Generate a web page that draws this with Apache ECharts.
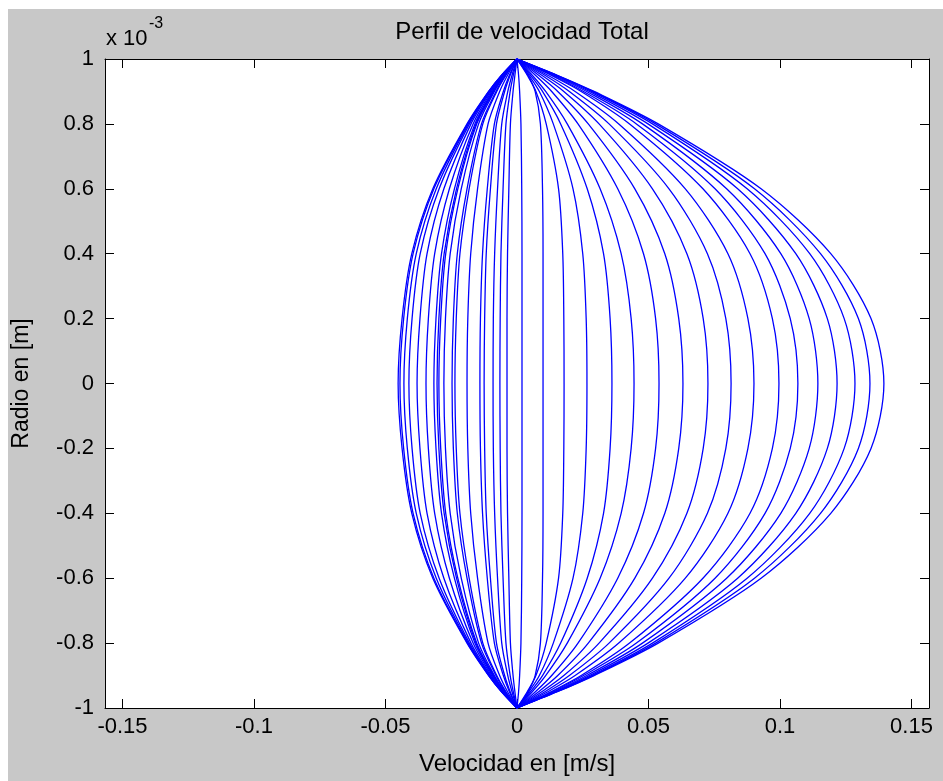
<!DOCTYPE html>
<html>
<head>
<meta charset="utf-8">
<script src="https://cdn.jsdelivr.net/npm/echarts@6/dist/echarts.min.js"></script>
<style>
  html, body { margin: 0; padding: 0; background: #ffffff; }
  #frame { position: absolute; left: 8px; top: 9px; width: 935px; height: 772px; background: #c8c8c8; }
  #chart { position: absolute; left: 0; top: 0; width: 943px; height: 781px; }
</style>
</head>
<body>
<div id="frame"></div>
<div id="chart"></div>
<script>
// Radial positions (units of 1e-3 m) where each velocity profile is sampled.
const radios = [0, 0.2, 0.4, 0.6, 0.8, 0.9, 0.95, 1];

// Velocity (m/s) of every profile at each radius; one entry per time instant.
const vR000 = [-0.0452,-0.0445,-0.0430,-0.0411,-0.0380,-0.0346,-0.0316,-0.0304,-0.0297,-0.0278,-0.0247,-0.0236,-0.0190,-0.0141,-0.0125,-0.0091,-0.0065,-0.0038,
               0.0019,0.0099,0.0179,0.0266,0.0361,0.0445,0.0540,0.0631,0.0726,0.0814,0.0901,0.0996,0.1068,0.1144,0.1217,0.1285,0.1342,0.1395];
const vR020 = [-0.0437,-0.0431,-0.0417,-0.0399,-0.0369,-0.0337,-0.0308,-0.0297,-0.0290,-0.0272,-0.0242,-0.0231,-0.0187,-0.0139,-0.0123,-0.0090,-0.0064,-0.0038,
               0.0019,0.0099,0.0178,0.0263,0.0354,0.0434,0.0527,0.0615,0.0708,0.0794,0.0878,0.0971,0.1039,0.1111,0.1180,0.1244,0.1298,0.1346];
const vR040 = [-0.0400,-0.0395,-0.0383,-0.0368,-0.0342,-0.0313,-0.0287,-0.0277,-0.0271,-0.0254,-0.0227,-0.0217,-0.0176,-0.0131,-0.0117,-0.0085,-0.0061,-0.0036,
               0.0019,0.0099,0.0174,0.0250,0.0329,0.0396,0.0481,0.0562,0.0646,0.0724,0.0802,0.0886,0.0943,0.1003,0.1060,0.1113,0.1154,0.1193];
const vR060 = [-0.0320,-0.0316,-0.0307,-0.0296,-0.0278,-0.0257,-0.0238,-0.0230,-0.0225,-0.0212,-0.0190,-0.0182,-0.0150,-0.0113,-0.0101,-0.0074,-0.0053,-0.0031,
               0.0018,0.0097,0.0158,0.0213,0.0267,0.0316,0.0383,0.0448,0.0515,0.0578,0.0640,0.0707,0.0753,0.0797,0.0839,0.0875,0.0903,0.0928];
const vR080 = [-0.0190,-0.0188,-0.0185,-0.0181,-0.0175,-0.0167,-0.0160,-0.0156,-0.0153,-0.0146,-0.0135,-0.0130,-0.0110,-0.0086,-0.0078,-0.0058,-0.0042,-0.0025,
               0.0015,0.0089,0.0111,0.0138,0.0166,0.0191,0.0232,0.0271,0.0312,0.0350,0.0387,0.0428,0.0454,0.0477,0.0498,0.0515,0.0527,0.0537];
const vR090 = [-0.0108,-0.0107,-0.0106,-0.0104,-0.0101,-0.0097,-0.0093,-0.0091,-0.0089,-0.0086,-0.0080,-0.0077,-0.0066,-0.0052,-0.0047,-0.0035,-0.0026,-0.0015,
               0.0010,0.0069,0.0072,0.0085,0.0097,0.0109,0.0132,0.0155,0.0178,0.0199,0.0221,0.0244,0.0253,0.0265,0.0275,0.0284,0.0289,0.0293];
const vR095 = [-0.0059,-0.0058,-0.0058,-0.0057,-0.0055,-0.0053,-0.0051,-0.0050,-0.0049,-0.0047,-0.0044,-0.0042,-0.0036,-0.0029,-0.0026,-0.0019,-0.0014,-0.0008,
               0.0006,0.0042,0.0039,0.0045,0.0051,0.0058,0.0070,0.0082,0.0094,0.0106,0.0117,0.0129,0.0134,0.0140,0.0145,0.0149,0.0152,0.0153];
const vR100 = vR000.map(() => 0); // no-slip at the wall

// Tick labels
const xTicks = [-0.15, -0.1, -0.05, 0, 0.05, 0.1, 0.15];
const yTicks = [-1, -0.8, -0.6, -0.4, -0.2, 0, 0.2, 0.4, 0.6, 0.8, 1];

const niveles = [vR000, vR020, vR040, vR060, vR080, vR090, vR095, vR100];

// Each profile is symmetric about the pipe axis: walk from the upper wall
// to the lower wall through the centre.
const series = vR000.map((_, i) => {
  const pts = [];
  for (let k = radios.length - 1; k >= 0; k--) pts.push([niveles[k][i], radios[k]]);
  for (let k = 1; k < radios.length; k++) pts.push([niveles[k][i], -radios[k]]);
  return {
    type: 'line', data: pts, showSymbol: false, smooth: 0.3,
    lineStyle: { color: '#0000ff', width: 1.3 }, silent: true
  };
});

const FONT = 'Liberation Sans, Arial, sans-serif';
const tick = { color: '#000', fontFamily: FONT, fontSize: 22 };
const label = { color: '#000', fontFamily: FONT, fontSize: 24 };
const line = { lineStyle: { color: '#000', width: 1 } };

const chart = echarts.init(document.getElementById('chart'), null, { renderer: 'canvas' });
chart.setOption({
  animation: false,
  backgroundColor: 'transparent',
  title: {
    text: 'Perfil de velocidad Total', left: 517, top: 15, textAlign: 'center',
    textStyle: { ...label, fontWeight: 'normal' }
  },
  grid: { left: 105, top: 59, width: 824, height: 651, backgroundColor: '#ffffff', show: true, borderWidth: 0 },
  xAxis: [
    {
      type: 'value', min: -0.15665, max: 0.15665, position: 'bottom',
      name: 'Velocidad en [m/s]', nameLocation: 'middle', nameGap: 44, nameTextStyle: label,
      axisLine: { show: true, onZero: false, ...line },
      axisTick: { show: true, inside: true, length: 9, customValues: xTicks, ...line },
      axisLabel: { customValues: xTicks, ...tick, margin: 8, formatter: v => String(+v.toFixed(2)) },
      splitLine: { show: false }
    },
    {
      type: 'value', min: -0.15665, max: 0.15665, position: 'top',
      axisLine: { show: true, onZero: false, ...line },
      axisTick: { show: true, inside: true, length: 9, customValues: xTicks, ...line },
      axisLabel: { show: false }, splitLine: { show: false }
    }
  ],
  yAxis: [
    {
      type: 'value', min: -1, max: 1, position: 'left',
      name: 'Radio en [m]', nameLocation: 'middle', nameGap: 72, nameRotate: 90,
      nameTextStyle: { ...label, fontSize: 23 },
      axisLine: { show: true, onZero: false, ...line },
      axisTick: { show: true, inside: true, length: 9, customValues: yTicks, ...line },
      axisLabel: { customValues: yTicks, ...tick, margin: 11, formatter: v => String(+v.toFixed(1)) },
      splitLine: { show: false }
    },
    {
      type: 'value', min: -1, max: 1, position: 'right',
      axisLine: { show: true, onZero: false, ...line },
      axisTick: { show: true, inside: true, length: 9, customValues: yTicks, ...line },
      axisLabel: { show: false }, splitLine: { show: false }
    }
  ],
  graphic: [
    { type: 'text', left: 106, top: 28, style: { text: 'x 10', fill: '#000', font: '22px ' + FONT } },
    { type: 'text', left: 149, top: 16, style: { text: '-3', fill: '#000', font: '16px ' + FONT } }
  ],
  series
});
</script>
</body>
</html>
